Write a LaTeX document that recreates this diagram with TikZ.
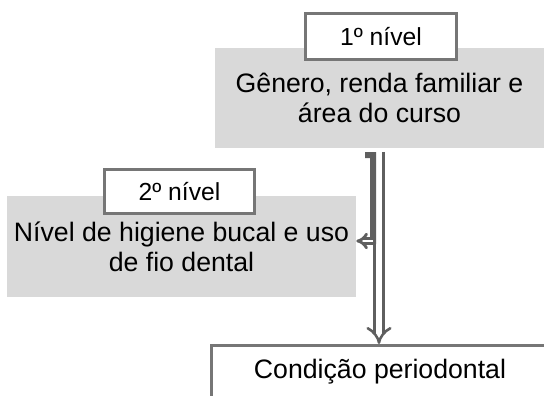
\documentclass[tikz,border=0pt]{standalone}
\usepackage{fontspec}
\setmainfont{Liberation Sans}
\usetikzlibrary{arrows.meta}
\definecolor{boxgray}{HTML}{D9D9D9}
\definecolor{edgegray}{HTML}{767676}
\definecolor{arrowgray}{HTML}{5F5F5F}
\begin{document}
\begin{tikzpicture}[x=0.75pt, y=-0.75pt]
    \tikzstyle{levelbox} = [rectangle, fill=boxgray, inner sep=0pt, align=center,
        font=\fontsize{20}{22.5}\selectfont]
    \tikzstyle{tagbox} = [rectangle, draw=edgegray, line width=2.25pt, fill=white,
        inner sep=0pt, font=\fontsize{18.5}{21}\selectfont]
    \tikzstyle{outcome} = [rectangle, draw=edgegray, line width=2.25pt, fill=white,
        inner xsep=0pt, inner ysep=0pt, text height=25pt, text depth=45pt,
        font=\fontsize{20}{22.5}\selectfont]
    \tikzstyle{dblarrow} = [draw=arrowgray, line width=1.9pt, double=white,
        double distance=4.5pt, -{Implies}]
    \tikzstyle{elbarrow} = [draw=arrowgray, line width=2.1pt, double=white,
        double distance=1.8pt, -{Implies}]

    \useasboundingbox (0,0) rectangle (544,396);
    \clip (0,0) rectangle (544,396);

    \node (lvl1) [levelbox, minimum width=246.75pt, minimum height=75pt]
        at (379.5,97.5) {Gênero, renda familiar e\\área do curso};
    \node (tag1) [tagbox, minimum width=113.25pt, minimum height=34.5pt]
        at (381,36.5) {1º nível};

    \node (lvl2) [levelbox, minimum width=261.75pt, minimum height=75.75pt]
        at (181.5,246.5) {Nível de higiene bucal e uso\\de fio dental};
    \node (tag2) [tagbox, minimum width=112.5pt, minimum height=33pt]
        at (179.5,191.5) {2º nível};

    \node (outc) [outcome, minimum width=253.5pt, anchor=north]
        at (380,344) {Condição periodontal};

    % setas
    \coordinate (vx) at (379,0);
    \coordinate (elb) at (373,241);
    \draw [dblarrow, shorten <=3pt] (lvl1.south -| vx) -- (outc.north -| vx);
    \fill [arrowgray] (370,244) -- (376,244) -- (376,152) -- (365,152)
        -- (365,158) -- (370,158) -- cycle;
    \draw [elbarrow] (elb) -- (lvl2.east |- elb);
\end{tikzpicture}
\end{document}
